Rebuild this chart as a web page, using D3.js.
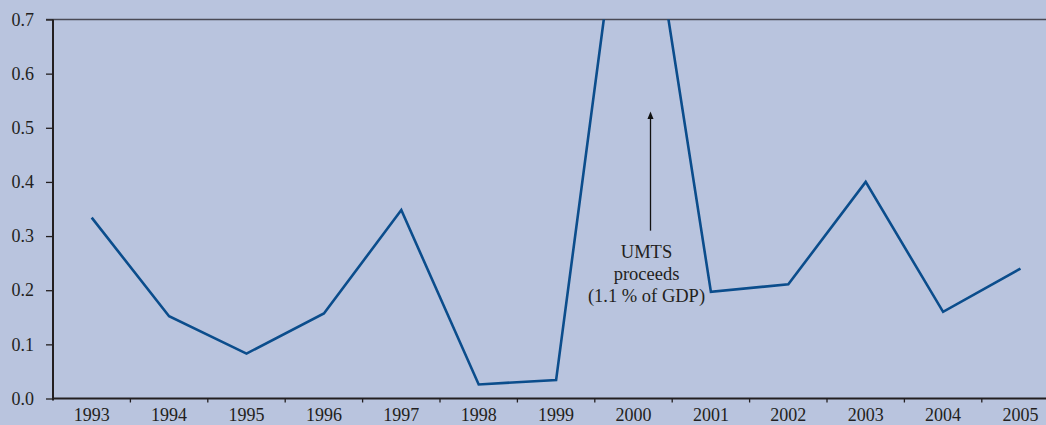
<!DOCTYPE html>
<html>
<head>
<meta charset="utf-8">
<script src="https://cdn.jsdelivr.net/npm/d3@7"></script>
<style>
  html, body { margin: 0; padding: 0; background: #b9c4de; }
  svg { display: block; font-family: "Liberation Serif", "Times New Roman", serif; }
</style>
</head>
<body>
<svg id="chart" width="1046" height="425"></svg>
<script>
// years and values (% of GDP)
var years = ["1993", "1994", "1995", "1996", "1997", "1998", "1999", "2000", "2001", "2002", "2003", "2004", "2005"];
var values = [0.334, 0.152, 0.083, 0.157, 0.348, 0.026, 0.034, 1.115, 0.197, 0.211, 0.400, 0.160, 0.240];
var yTicks = [0.0, 0.1, 0.2, 0.3, 0.4, 0.5, 0.6, 0.7];
var noteLines = ["UMTS", "proceeds", "(1.1 % of GDP)"];

var W = 1046, H = 425;
var margin = {left: 53, top: 19.5, bottom: 26.5};
var band = 77.4;

var svg = d3.select("#chart");

var x = d3.scaleBand()
  .domain(years)
  .range([margin.left, margin.left + band * years.length])
  .paddingInner(0).paddingOuter(0);

var y = d3.scaleLinear()
  .domain([0, 0.7])
  .range([H - margin.bottom, margin.top]);

var ink = "#231f20";
var serif = "'Liberation Serif', 'Times New Roman', serif";

// top border at 0.7
svg.append("line")
  .attr("x1", margin.left - 7).attr("x2", W)
  .attr("y1", y(0.7)).attr("y2", y(0.7))
  .attr("stroke", "#4a4a55").attr("stroke-width", 1.5);

// y axis
var yaxis = d3.axisLeft(y).tickValues(yTicks).tickFormat(d3.format(".1f")).tickSize(7).tickPadding(12);
var gy = svg.append("g").attr("transform", "translate(" + margin.left + ",0)").call(yaxis);
gy.attr("font-family", null).attr("font-size", null);
gy.select(".domain").remove();
gy.selectAll(".tick line").attr("stroke", ink).attr("stroke-width", 1.3);
gy.selectAll(".tick text").attr("fill", ink).style("font-size", "18px").style("font-family", serif);
svg.append("line")
  .attr("x1", margin.left).attr("x2", margin.left)
  .attr("y1", y(0.7)).attr("y2", y(0) + 2)
  .attr("stroke", ink).attr("stroke-width", 2);

// x axis: labels centred in bands, ticks on band edges
var xaxis = d3.axisBottom(x).tickSize(0).tickPadding(10);
var gx = svg.append("g").attr("transform", "translate(0," + y(0) + ")").call(xaxis);
gx.attr("font-family", null).attr("font-size", null);
gx.select(".domain").remove();
gx.selectAll(".tick text").attr("fill", ink).attr("dy", "0.68em").style("font-size", "18px").style("font-family", serif);

svg.append("line")
  .attr("x1", margin.left).attr("x2", W)
  .attr("y1", y(0)).attr("y2", y(0))
  .attr("stroke", ink).attr("stroke-width", 2.2);

svg.selectAll(".xedge")
  .data(years.slice(1))
  .enter().append("line")
  .attr("class", "xedge")
  .attr("x1", function(d) { return x(d); })
  .attr("x2", function(d) { return x(d); })
  .attr("y1", y(0)).attr("y2", y(0) + 4)
  .attr("stroke", ink).attr("stroke-width", 1.3);

// clip the line at the plot top
svg.append("clipPath").attr("id", "plot-clip")
  .append("rect")
  .attr("x", margin.left).attr("y", y(0.7))
  .attr("width", W - margin.left).attr("height", y(0) - y(0.7));

var line = d3.line()
  .x(function(d, i) { return x(years[i]) + x.bandwidth() / 2; })
  .y(function(d) { return y(d); });

svg.append("path")
  .datum(values)
  .attr("clip-path", "url(#plot-clip)")
  .attr("d", line)
  .attr("fill", "none")
  .attr("stroke", "#0b4d8c")
  .attr("stroke-width", 2.6)
  .attr("stroke-linejoin", "miter");

// annotation arrow
var ax = x("2000") + x.bandwidth() / 2 + 17;
svg.append("defs").append("marker")
  .attr("id", "arrowhead")
  .attr("viewBox", "0 0 10 10")
  .attr("refX", 5).attr("refY", 5)
  .attr("markerWidth", 6).attr("markerHeight", 6)
  .attr("orient", "auto")
  .append("path").attr("d", "M0,1 L10,5 L0,9 Z").attr("fill", "#111");

svg.append("line")
  .attr("x1", ax).attr("x2", ax)
  .attr("y1", y(0.31)).attr("y2", y(0.523))
  .attr("stroke", "#111").attr("stroke-width", 1.3)
  .attr("marker-end", "url(#arrowhead)");

svg.append("text")
  .attr("x", ax - 4)
  .attr("y", y(0.259))
  .attr("text-anchor", "middle")
  .attr("fill", ink)
  .style("font-size", "18.5px")
  .style("font-family", serif)
  .selectAll("tspan")
  .data(noteLines)
  .enter().append("tspan")
  .attr("x", ax - 4)
  .attr("dy", function(d, i) { return i === 0 ? 0 : 21.7; })
  .text(function(d) { return d; });
</script>
</body>
</html>
